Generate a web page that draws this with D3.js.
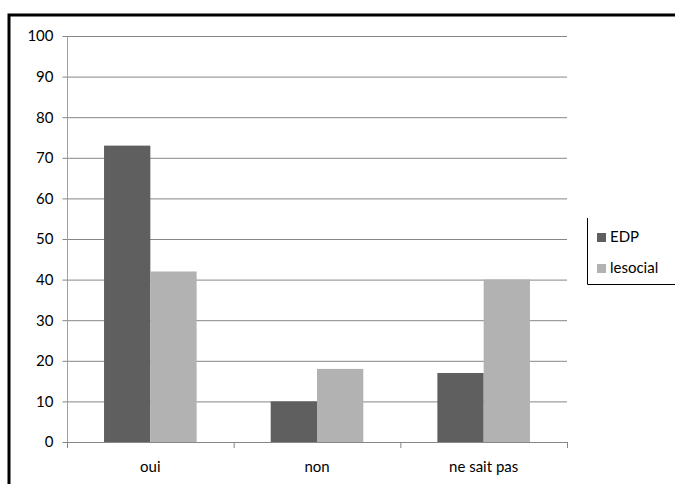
<!DOCTYPE html>
<html><head><meta charset="utf-8">
<script src="https://cdn.jsdelivr.net/npm/d3@7"></script>
<style>body{margin:0;background:#fff}svg{display:block}text{font-family:Lato,"Open Sans",sans-serif;font-size:15px;fill:#000}</style>
</head><body>
<svg id="c" width="675" height="484"></svg>
<script>
const categories = ["oui", "non", "ne sait pas"];
const seriesNames = ["EDP", "lesocial"];
const edp = [73, 10, 17];
const lesocial = [42, 18, 40];
const yTicks = [0, 10, 20, 30, 40, 50, 60, 70, 80, 90, 100];
const colors = ["#5f5f5f", "#b2b2b2"];

(function () {
const svg = d3.select("#c");
svg.append("path").attr("d", "M9,484 V15 H675").attr("fill", "none").attr("stroke", "#000").attr("stroke-width", 3);

const pLeft = 67, pRight = 567, pTop = 36, pBottom = 442;
const x = d3.scaleBand().domain(categories).range([pLeft, pRight]).paddingInner(0).paddingOuter(0);
const inner = d3.scaleBand().domain(seriesNames).range([0, x.bandwidth()]).paddingInner(0).paddingOuter(0.8);
const y = d3.scaleLinear().domain([0, 100]).range([pBottom, pTop]);

svg.append("g").selectAll("line").data(yTicks.filter(d => d > 0)).join("line")
  .attr("x1", pLeft).attr("x2", pRight).attr("y1", d => y(d) + 0.5).attr("y2", d => y(d) + 0.5)
  .attr("stroke", "#868686").attr("stroke-width", 1);

const ya = svg.append("g").attr("transform", `translate(${pLeft + 0.5},0)`)
  .call(d3.axisLeft(y).tickValues(yTicks).tickSize(5).tickPadding(9));
ya.select(".domain").attr("stroke", "#a0a0a0").attr("d", `M0,${pTop}V${pBottom}`);
ya.selectAll(".tick line").attr("stroke", "#868686");
ya.selectAll("text").style("font-size", "15px").attr("fill", "#000");

const data = categories.map((c, i) => ({c, vals: [edp[i], lesocial[i]]}));
const groups = svg.append("g").selectAll("g").data(data).join("g")
  .attr("transform", d => `translate(${x(d.c)},0)`);
groups.selectAll("rect").data(d => d.vals.map((v, j) => ({s: seriesNames[j], v, j}))).join("rect")
  .attr("x", d => inner(d.s)).attr("width", inner.bandwidth())
  .attr("y", d => y(d.v)).attr("height", d => pBottom - y(d.v))
  .attr("fill", d => colors[d.j]);

const xa = svg.append("g").attr("transform", `translate(0,${pBottom + 0.5})`)
  .call(d3.axisBottom(x).tickSize(0).tickPadding(19));
xa.select(".domain").attr("stroke", "#868686").attr("d", `M${pLeft},0H${pRight}`);
xa.selectAll("text").style("font-size", "15px").attr("fill", "#000");
svg.append("g").selectAll("line").data([...categories.map(c => x(c)), pRight]).join("line")
  .attr("x1", d => d + 0.5).attr("x2", d => d + 0.5).attr("y1", pBottom).attr("y2", pBottom + 6)
  .attr("stroke", "#868686");

const lg = svg.append("g");
lg.append("path").attr("d", "M587.5,218 V284.5 H675").attr("fill", "none").attr("stroke", "#000").attr("stroke-width", 1);
seriesNames.forEach((s, i) => {
  const yy = 237 + i * 31;
  lg.append("rect").attr("x", 597).attr("y", yy - 4).attr("width", 9).attr("height", 9).attr("fill", colors[i]);
  lg.append("text").attr("x", 610).attr("y", yy + 5).text(s).style("font-size", "15px");
});
})();
</script>
</body></html>
